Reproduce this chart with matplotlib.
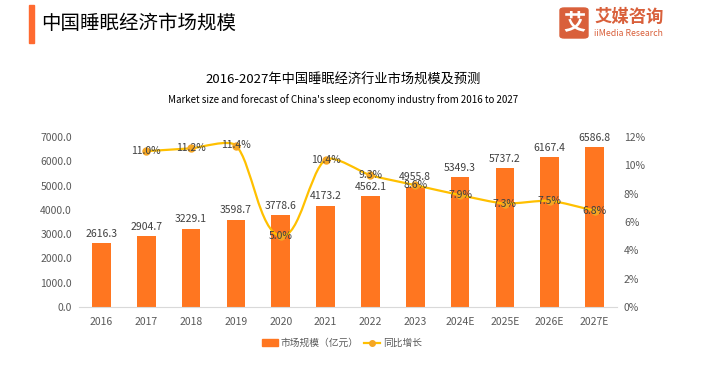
import numpy as np
import matplotlib
matplotlib.use("Agg")
import matplotlib.pyplot as plt
from matplotlib.path import Path
from matplotlib.patches import PathPatch, Rectangle, FancyBboxPatch
from matplotlib.lines import Line2D
import matplotlib.ticker as mtick

plt.rcParams['font.family'] = ['Noto Sans CJK SC', 'DejaVu Sans']

years = ["2016", "2017", "2018", "2019", "2020", "2021", "2022", "2023",
         "2024E", "2025E", "2026E", "2027E"]
market_size = [2616.3, 2904.7, 3229.1, 3598.7, 3778.6, 4173.2,
               4562.1, 4955.8, 5349.3, 5737.2, 6167.4, 6586.8]
growth = [np.nan, 11.0, 11.2, 11.4, 5.0, 10.4, 9.3, 8.6, 7.9, 7.3, 7.5, 6.8]

bar_color = "#FF7620"
line_color = "#FFC000"
marker_color = "#F5A623"
tick_color = "#595959"
label_color = "#404040"


def smooth_path(xs, ys, sx=44.8, sy=14.17, t=0.22):
    # Excel-like smoothed line: tangent along neighbour chord, length scaled
    # by each adjacent segment (lengths measured in approximate pixel units)
    pts = np.column_stack([np.asarray(xs, float) * sx, np.asarray(ys, float) * sy])
    n = len(pts)
    tang = []
    for i in range(n):
        a = pts[max(i - 1, 0)]
        b = pts[min(i + 1, n - 1)]
        d = b - a
        tang.append(d / np.hypot(*d))
    verts = [pts[0]]
    codes = [Path.MOVETO]
    for i in range(n - 1):
        seg = np.hypot(*(pts[i + 1] - pts[i]))
        c1 = pts[i] + tang[i] * seg * t
        c2 = pts[i + 1] - tang[i + 1] * seg * t
        verts += [c1, c2, pts[i + 1]]
        codes += [Path.CURVE4] * 3
    verts = np.array(verts) / [sx, sy]
    return Path(verts, codes)


fig = plt.figure(figsize=(7.09, 3.77), dpi=100)
ax = fig.add_axes([79 / 709, 1 - 307 / 377, 538 / 709, 170 / 377])

x = np.arange(len(years))
bars = ax.bar(x, market_size, width=0.42, color=bar_color, zorder=2)
for xi, v in zip(x, market_size):
    ax.annotate(f"{v:.1f}", (xi, v), xytext=(0, 3), textcoords="offset points",
                ha="center", va="bottom", fontsize=7.5, color=label_color)

ax.set_xlim(-0.5, len(years) - 0.5)
ax.set_ylim(0, 7000)
ax.set_yticks(np.arange(0, 7001, 1000))
ax.yaxis.set_major_formatter(mtick.StrMethodFormatter('{x:.1f}'))
ax.set_xticks(x)
ax.set_xticklabels(years)
ax.tick_params(axis="both", length=0, labelsize=7.5, colors=tick_color)
ax.tick_params(axis="x", pad=7)
ax.tick_params(axis="y", pad=5)
for s in ["top", "right", "left"]:
    ax.spines[s].set_visible(False)
ax.spines["bottom"].set_color("#D9D9D9")

ax2 = ax.twinx()
ax2.set_ylim(0, 12)
ax2.set_yticks(np.arange(0, 13, 2))
ax2.yaxis.set_major_formatter(mtick.StrMethodFormatter('{x:.0f}%'))
ax2.tick_params(axis="y", length=0, labelsize=7.5, colors=tick_color, pad=5)
for s in ["top", "right", "left", "bottom"]:
    ax2.spines[s].set_visible(False)

gx = [xi for xi, g in zip(x, growth) if not np.isnan(g)]
gy = [g for g in growth if not np.isnan(g)]
ax2.add_patch(PathPatch(smooth_path(gx, gy), facecolor="none",
                        edgecolor=line_color, lw=1.6, zorder=3))
ax2.plot(gx, gy, linestyle="none", marker="o", markersize=5,
         color=marker_color, zorder=4)
for xi, g in zip(gx, gy):
    ax2.text(xi, g, f"{g:.1f}%", ha="center", va="center", fontsize=7.5,
             color=label_color, zorder=5)

# legend
handles = [Rectangle((0, 0), 1, 1, color=bar_color),
           Line2D([], [], color=line_color, lw=1.6, marker="o",
                  markersize=4, markerfacecolor=marker_color,
                  markeredgecolor=marker_color)]
fig.legend(handles, ["市场规模（亿元）", "同比增长"], loc="center",
           bbox_to_anchor=(342 / 709, 1 - 343 / 377), ncol=2, frameon=False,
           fontsize=7, labelcolor=tick_color, handlelength=1.6,
           handletextpad=0.3, columnspacing=0.6)

# titles
fig.text(343 / 709, 1 - 80 / 377, "2016-2027年中国睡眠经济行业市场规模及预测",
         ha="center", va="center", fontsize=9.5, color="black")
fig.text(343 / 709, 1 - 100 / 377,
         "Market size and forecast of China's sleep economy industry from 2016 to 2027",
         ha="center", va="center", fontsize=7, color="black")

# page header
fig.patches.append(Rectangle((29 / 709, 1 - 43 / 377), 5 / 709, 38 / 377,
                             transform=fig.transFigure, color="#FF6A30"))
fig.text(41 / 709, 1 - 23 / 377, "中国睡眠经济市场规模", ha="left",
         va="center", fontsize=14, color="black")

# logo
fig.patches.append(FancyBboxPatch((560 / 709, 1 - 38 / 377), 28 / 709, 30 / 377,
                                  boxstyle="round,pad=0,rounding_size=0.006",
                                  transform=fig.transFigure, color="#D9603B"))
fig.text(574 / 709, 1 - 23 / 377, "艾", ha="center", va="center",
         fontsize=16, color="white", fontweight="bold")
fig.text(594 / 709, 1 - 17 / 377, "艾媒咨询", ha="left", va="center",
         fontsize=12.5, color="#D9603B", fontweight="bold")
fig.text(594 / 709, 1 - 33 / 377, "iiMedia Research", ha="left", va="center",
         fontsize=6.3, color="#D9603B")

fig.savefig("out.png", dpi=100)
